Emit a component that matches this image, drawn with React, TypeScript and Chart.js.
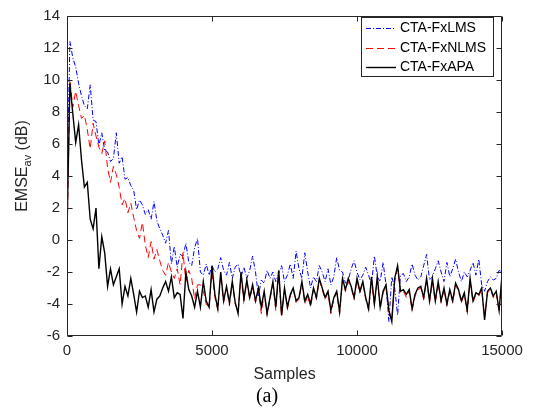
import React, { useEffect, useRef } from 'react';
import { Chart, registerables } from 'chart.js';

Chart.register(...registerables);

// ---- data (EMSE_av in dB, one value every SAMPLE_STEP samples) ----
const SAMPLE_STEP = 100;

const LMS = [
  3.0, 12.4, 11.4, 10.8, 9.8, 9.0, 8.4, 8.2, 9.7, 7.5,
  7.4, 5.9, 6.7, 5.6, 5.5, 4.9, 5.1, 6.7, 4.8, 5.2,
  3.8, 3.9, 3.4, 3.1, 1.9, 2.5, 2.2, 1.6, 1.9, 1.3,
  2.4, 1.2, 0.7, 0.3, -0.2, 0.6, -1.5, -0.4, -1.7, -0.9,
  -1.0, -0.2, -1.4, -1.6, -0.5, 0.1, -2.0, -2.2, -1.5, -2.2,
  -1.6, -2.0, -1.8, -1.1, -1.9, -2.2, -1.4, -2.4, -1.7, -1.5,
  -2.3, -1.7, -2.4, -1.9, -1.0, -2.0, -3.5, -2.5, -2.7, -1.9,
  -2.4, -2.0, -2.6, -2.1, -1.6, -2.6, -2.2, -1.5, -2.4, -0.7,
  -1.8, -2.4, -0.8, -2.0, -3.0, -2.3, -2.6, -1.6, -2.0, -2.6,
  -1.8, -2.8, -2.3, -1.1, -1.9, -2.0, -2.7, -2.5, -1.8, -1.3,
  -2.0, -2.5, -2.2, -1.7, -2.2, -2.8, -1.0, -2.3, -2.6, -1.4,
  -2.8, -5.1, -2.3, -3.0, -4.7, -2.2, -2.1, -2.6, -2.3, -1.5,
  -2.2, -2.5, -2.3, -1.6, -0.9, -2.5, -2.3, -1.8, -1.3, -2.0,
  -2.6, -1.4, -2.3, -1.8, -1.2, -2.0, -2.6, -2.0, -2.3, -1.9,
  -1.4, -2.2, -1.2, -2.8, -3.2, -2.6, -2.3, -2.5, -2.4, -1.9,
  -2.0,
];

const NLMS = [
  -0.2, 10.0, 8.3, 9.3, 8.4, 7.6, 7.8, 6.9, 5.7, 7.3,
  6.5, 5.8, 5.4, 6.2, 4.5, 3.6, 4.6, 4.1, 3.3, 2.2,
  2.6, 1.7, 2.3, 1.4, 0.6, 0.1, 1.1, -0.3, -1.1, -0.1,
  -1.2, -0.6, -1.3, -1.9, -2.2, -1.4, -2.0, -2.4, -1.8, -2.8,
  -0.8, -2.6, -1.9, -2.4, -3.7, -2.8, -2.8, -3.2, -4.0, -4.2,
  -2.0, -3.6, -4.4, -2.2, -3.9, -3.0, -4.1, -2.7, -4.0, -4.5,
  -2.3, -3.8, -2.6, -3.7, -2.9, -3.9, -3.2, -4.6, -3.3, -4.7,
  -3.7, -2.8, -4.4, -2.1, -4.8, -3.1, -4.3, -3.5, -3.1, -3.9,
  -3.7, -2.7, -4.0, -3.5, -4.2, -3.1, -3.7, -2.5, -3.1, -3.7,
  -3.3, -4.6, -3.7, -3.3, -4.6, -2.5, -3.2, -2.6, -3.0, -3.7,
  -2.5, -3.3, -2.7, -3.7, -4.4, -2.5, -4.1, -2.4, -4.3, -3.3,
  -2.9, -4.5, -4.9, -2.6, -1.8, -3.3, -3.2, -3.6, -3.2, -4.4,
  -3.5, -3.1, -3.0, -3.7, -2.5, -3.9, -2.6, -3.9, -2.7, -3.9,
  -3.1, -4.1, -3.2, -3.9, -2.8, -3.2, -3.9, -3.4, -4.5, -2.6,
  -3.9, -3.4, -3.5, -3.1, -4.8, -3.3, -3.1, -3.6, -3.3, -4.5,
  -2.4,
];

const APA = [
  0.5, 9.8, 7.9, 6.1, 7.2, 5.0, 3.3, 3.6, 1.3, 0.7,
  2.0, -1.8, 0.2, -0.8, -2.9, -1.8, -2.8, -2.3, -1.8, -4.0,
  -2.9, -3.5, -2.4, -3.4, -4.5, -3.2, -3.6, -3.5, -4.2, -3.1,
  -4.5, -3.7, -3.5, -3.0, -2.6, -3.2, -2.3, -3.6, -3.3, -3.4,
  -4.9, -2.0, -3.1, -3.5, -4.2, -3.2, -4.2, -2.6, -3.8, -4.2,
  -1.6, -3.4, -4.3, -2.0, -3.8, -2.9, -3.9, -2.6, -3.9, -4.6,
  -2.0, -3.7, -2.5, -3.6, -2.8, -3.8, -3.0, -4.2, -3.2, -4.6,
  -3.6, -2.6, -4.2, -1.9, -4.7, -3.0, -4.2, -3.4, -3.0, -3.8,
  -3.6, -2.6, -3.8, -3.4, -4.0, -3.0, -3.6, -2.4, -3.0, -3.6,
  -3.2, -4.4, -3.6, -3.2, -4.5, -2.4, -3.1, -2.4, -2.9, -3.6,
  -2.4, -3.2, -2.6, -3.6, -4.3, -2.3, -4.0, -2.3, -4.2, -3.2,
  -2.8, -4.4, -5.1, -2.4, -1.6, -3.2, -3.1, -3.4, -3.1, -4.3,
  -3.4, -3.0, -2.9, -3.6, -2.4, -3.8, -2.4, -3.8, -2.6, -3.8,
  -3.0, -4.0, -3.1, -3.8, -2.7, -3.1, -3.8, -3.3, -4.4, -2.4,
  -3.8, -3.3, -3.4, -3.0, -5.0, -3.2, -3.0, -3.5, -3.2, -4.4,
  -2.2,
];

const SERIES_LABELS = ['CTA-FxLMS', 'CTA-FxNLMS', 'CTA-FxAPA'];
const X_MIN = 0;
const X_MAX = 15000;
const X_STEP = 5000;
const Y_MIN = -6;
const Y_MAX = 14;
const Y_STEP = 2;

const AXIS_COLOR = '#262626';
const FONT = '"Liberation Sans", Arial, sans-serif';

const toPoints = (arr: number[]) => arr.map((v, i) => ({ x: i * SAMPLE_STEP, y: v }));

const framePlugin = {
  id: 'matlabFrame',
  afterDatasetsDraw(chart: any) {
    const { ctx, chartArea: a, scales } = chart;
    const L = Math.round(a.left) + 0.5;
    const R = Math.round(a.right) - 0.5;
    const T = Math.round(a.top) + 0.5;
    const B = Math.round(a.bottom) - 0.5;
    ctx.save();
    ctx.strokeStyle = AXIS_COLOR;
    ctx.lineWidth = 1;
    ctx.setLineDash([]);
    ctx.beginPath();
    ctx.rect(L, T, R - L, B - T);
    ctx.stroke();
    const tl = 5;
    ctx.beginPath();
    scales.x.ticks.forEach((t: any) => {
      const px = Math.round(scales.x.getPixelForValue(t.value)) + 0.5;
      ctx.moveTo(px, B); ctx.lineTo(px, B - tl);
      ctx.moveTo(px, T); ctx.lineTo(px, T + tl);
    });
    scales.y.ticks.forEach((t: any) => {
      const py = Math.round(scales.y.getPixelForValue(t.value)) + 0.5;
      ctx.moveTo(L, py); ctx.lineTo(L + tl, py);
      ctx.moveTo(R, py); ctx.lineTo(R - tl, py);
    });
    ctx.stroke();
    ctx.restore();
  },
};

const yTitlePlugin = {
  id: 'yTitle',
  afterDraw(chart: any) {
    const { ctx } = chart;
    const main = `16px ${FONT}`;
    const sub = `11px ${FONT}`;
    ctx.save();
    ctx.fillStyle = AXIS_COLOR;
    ctx.textBaseline = 'alphabetic';
    ctx.textAlign = 'left';
    ctx.font = main;
    const w1 = ctx.measureText('EMSE').width;
    const w3 = ctx.measureText(' (dB)').width;
    ctx.font = sub;
    const w2 = ctx.measureText('av').width;
    const total = w1 + w2 + w3;
    ctx.translate(27, 166);
    ctx.rotate(-Math.PI / 2);
    const s = -total / 2;
    ctx.font = main;
    ctx.fillText('EMSE', s, 0);
    ctx.font = sub;
    ctx.fillText('av', s + w1, 4);
    ctx.font = main;
    ctx.fillText(' (dB)', s + w1 + w2, 0);
    ctx.restore();
  },
};

const legendPlugin = {
  id: 'boxLegend',
  afterDraw(chart: any) {
    const { ctx } = chart;
    const box = { l: 361.5, t: 17.5, r: 493.5, b: 76.5 };
    ctx.save();
    ctx.fillStyle = '#ffffff';
    ctx.fillRect(box.l, box.t, box.r - box.l, box.b - box.t);
    ctx.strokeStyle = AXIS_COLOR;
    ctx.lineWidth = 1;
    ctx.setLineDash([]);
    ctx.strokeRect(box.l, box.t, box.r - box.l, box.b - box.t);
    const rows = [28, 47.5, 67];
    chart.data.datasets.forEach((ds: any, i: number) => {
      const y = Math.round(rows[i]) + 0.5;
      ctx.strokeStyle = ds.borderColor;
      ctx.lineWidth = ds.borderWidth;
      ctx.setLineDash(ds.borderDash || []);
      ctx.beginPath();
      ctx.moveTo(366, y);
      ctx.lineTo(396, y);
      ctx.stroke();
      ctx.setLineDash([]);
      ctx.fillStyle = '#000000';
      ctx.font = `14px ${FONT}`;
      ctx.textBaseline = 'middle';
      ctx.textAlign = 'left';
      ctx.fillText(ds.label, 400, rows[i] + 0.5);
    });
    ctx.restore();
  },
};

export default function App() {
  const canvasRef = useRef<HTMLCanvasElement | null>(null);

  useEffect(() => {
    if (!canvasRef.current) return;
    const chart = new Chart(canvasRef.current, {
      type: 'line',
      data: {
        datasets: [
          {
            label: SERIES_LABELS[0],
            data: toPoints(LMS),
            borderColor: '#0000ff',
            borderWidth: 1,
            borderDash: [5, 2, 1, 2],
            pointRadius: 0,
            tension: 0,
            order: 3,
          },
          {
            label: SERIES_LABELS[1],
            data: toPoints(NLMS),
            borderColor: '#ff0000',
            borderWidth: 1,
            borderDash: [7, 4],
            pointRadius: 0,
            tension: 0,
            order: 2,
          },
          {
            label: SERIES_LABELS[2],
            data: toPoints(APA),
            borderColor: '#000000',
            borderWidth: 1.4,
            borderDash: [],
            pointRadius: 0,
            tension: 0,
            order: 1,
          },
        ],
      },
      options: {
        animation: false,
        responsive: false,
        devicePixelRatio: 1,
        layout: { padding: { top: 7, right: 34, left: 0, bottom: 0 } },
        plugins: {
          legend: { display: false },
          tooltip: { enabled: false },
        },
        scales: {
          x: {
            type: 'linear',
            min: X_MIN,
            max: X_MAX,
            border: { display: false },
            grid: { display: false, drawTicks: false },
            ticks: {
              stepSize: X_STEP,
              padding: 6,
              color: AXIS_COLOR,
              font: { family: FONT, size: 15 },
              maxRotation: 0,
              callback: (v: any) => String(v),
            },
            title: {
              display: true,
              text: 'Samples',
              color: AXIS_COLOR,
              font: { family: FONT, size: 16 },
              padding: { top: 0, bottom: 24 },
            },
            afterFit: (s: any) => { s.height = 72; },
          },
          y: {
            type: 'linear',
            min: Y_MIN,
            max: Y_MAX,
            border: { display: false },
            grid: { display: false, drawTicks: false },
            ticks: {
              stepSize: Y_STEP,
              padding: 7,
              color: AXIS_COLOR,
              font: { family: FONT, size: 15 },
              callback: (v: any) => String(v),
            },
            afterFit: (s: any) => { s.width = 67; },
          },
        },
      },
      plugins: [framePlugin, yTitlePlugin, legendPlugin],
    });
    return () => chart.destroy();
  }, []);

  return (
    <div style={{ position: 'fixed', left: 0, top: 0, width: 536, height: 408, background: '#fff' }}>
      <canvas ref={canvasRef} width={536} height={408} style={{ width: 536, height: 408, display: 'block' }} />
      <div
        style={{
          position: 'absolute',
          left: 217,
          width: 100,
          top: 383,
          textAlign: 'center',
          fontFamily: '"Liberation Serif", "Times New Roman", serif',
          fontSize: 20,
          lineHeight: '24px',
          color: '#000',
        }}
      >
        (a)
      </div>
    </div>
  );
}
